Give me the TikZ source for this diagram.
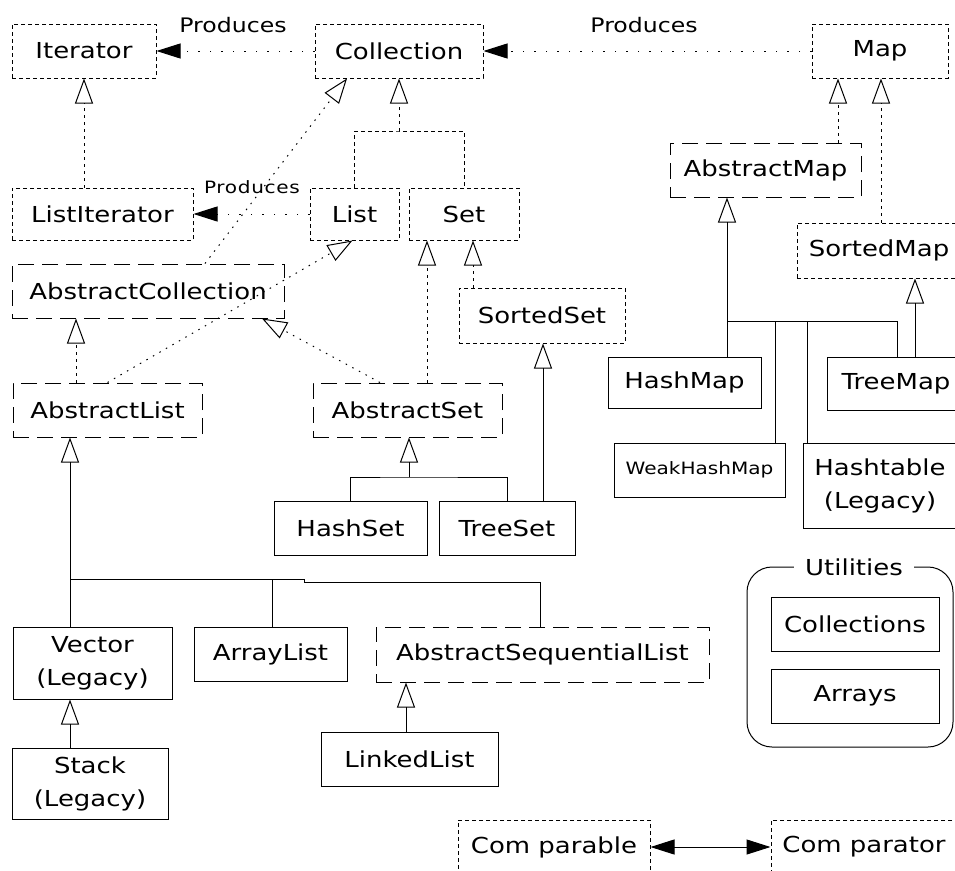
\documentclass[tikz,border=0pt]{standalone}
\usepackage{fontspec}
\setmainfont{DejaVu Sans}[FakeStretch=1.18]
\usetikzlibrary{arrows.meta}
\newcommand\ffBig{\fontsize{22}{33}\selectfont}
\newcommand\ffProd{\fontsize{20}{30}\selectfont}
\newcommand\ffSmall{\fontsize{17}{25}\selectfont}
\begin{document}
\begin{tikzpicture}[x=1pt,y=-1pt,line width=1pt,
  every node/.style={inner sep=0pt,align=center,font=\ffBig},
  ibox/.style={draw,dash pattern=on 4pt off 3pt},
  abox/.style={draw,dash pattern=on 16pt off 8pt},
  cbox/.style={draw},
  opentip/.tip={Triangle[open,length=25pt,width=18pt]},
  filltip/.tip={Triangle[length=24pt,width=15pt]},
  impl/.style={dash pattern=on 3pt off 4pt,-opentip},
  impld/.style={dash pattern=on 1.5pt off 6pt,-opentip},
  extends/.style={-opentip},
  produces/.style={dash pattern=on 1.5pt off 10pt,-filltip},
  groupline/.style={dash pattern=on 4pt off 3pt}]
\useasboundingbox (0,0) rectangle (955,870);
\clip (0,0) rectangle (955,870);
% interfaces and classes
\node[ibox,minimum width=144,minimum height=54] (it) at (84,51) {Iterator};
\node[ibox,minimum width=168,minimum height=54] (coll) at (399,51) {Collection};
\node[ibox,minimum width=136,minimum height=54] (map) at (880,51) {Map};
\node[ibox,minimum width=181,minimum height=52] (li) at (102.5,214) {ListIterator};
\node[ibox,minimum width=89,minimum height=52] (list) at (354.5,214) {List};
\node[ibox,minimum width=110,minimum height=52] (set) at (464,214) {Set};
\node[abox,minimum width=191,minimum height=54] (am) at (765.5,170) {AbstractMap};
\node[ibox,minimum width=164,minimum height=55] (sm) at (879,250.5) {SortedMap};
\node[abox,minimum width=272,minimum height=54] (ac) at (148,291) {AbstractCollection};
\node[ibox,minimum width=166,minimum height=55] (ss) at (542,315.5) {SortedSet};
\node[abox,minimum width=189,minimum height=54] (al) at (107.5,410) {AbstractList};
\node[abox,minimum width=189,minimum height=54] (as) at (407.5,410) {AbstractSet};
\node[cbox,minimum width=153,minimum height=54] (hs) at (350.5,528) {HashSet};
\node[cbox,minimum width=136,minimum height=54] (ts) at (507,528) {TreeSet};
\node[cbox,minimum width=153,minimum height=51] (hm) at (684.5,382.5) {HashMap};
\node[cbox,minimum width=138,minimum height=53] (tm) at (896,383.5) {TreeMap};
\node[cbox,minimum width=171,minimum height=54,font=\ffSmall] (whm) at (699.5,470) {WeakHashMap};
\node[cbox,minimum width=154,minimum height=85] (ht) at (880,485.5) {Hashtable\\(Legacy)};
\node[cbox,minimum width=159,minimum height=72] (vec) at (92.5,663) {Vector\\(Legacy)};
\node[cbox,minimum width=153,minimum height=54] (arl) at (270.5,654) {ArrayList};
\node[abox,minimum width=333,minimum height=55] (asl) at (542.5,654.5) {AbstractSequentialList};
\node[cbox,minimum width=156,minimum height=71] (stk) at (90,783.5) {Stack\\(Legacy)};
\node[cbox,minimum width=177,minimum height=54] (ll) at (409.5,759) {LinkedList};
% utilities
\node[draw,rounded corners=25pt,minimum width=206,minimum height=180] (util) at (850,657) {};
\node[fill=white,inner xsep=11pt,inner ysep=2pt] (utl) at (854,567) {Utilities};
\node[cbox,minimum width=168,minimum height=54] (colls) at (855,624) {Collections};
\node[cbox,minimum width=168,minimum height=54] (arrs) at (855,696) {Arrays};
% comparable / comparator
\node[ibox,minimum width=192,minimum height=54] (cmpb) at (554,847) {Com parable};
\node[ibox,minimum width=186,minimum height=54] (cmpt) at (864,847) {Com parator};
% labels
\node[font=\ffProd] (p1) at (233,25) {Produces};
\node[font=\ffProd] (p2) at (644,25) {Produces};
\node[font=\ffSmall\addfontfeature{LetterSpace=4}] (p3) at (252,187) {Produces};
% produces connectors
\draw[produces] (coll.west) -- (it.east);
\draw[produces] (map.west) -- (coll.east);
\draw[produces] (list.west) -- (li.east);
\draw[filltip-filltip] (cmpb.east) -- (cmpt.west);
% interface inheritance
\draw[impl] (li.north -| it.south) -- (it.south);
\coordinate (lsj) at (399,131);
\draw[groupline] (list.north) |- (lsj) -| (set.north);
\draw[impl] (lsj) -- (coll.south);
\draw[impl] ([xshift=72.5pt]am.north) -- ([xshift=-42pt]map.south);
\draw[impl] ([xshift=2pt]sm.north) -- ([xshift=1pt]map.south);
\draw[impl] ([xshift=-31.5pt]al.north) -- ([xshift=-72pt]ac.south);
\draw[impl] ([xshift=19.5pt]as.north) -- ([xshift=-37pt]set.south);
\draw[impl] ([xshift=-69pt]ss.north) -- ([xshift=9pt]set.south);
\draw[impld] ([xshift=57pt]ac.north) -- ([xshift=-52pt]coll.south);
\draw[impld] (al.north) -- ([xshift=-2pt]list.south);
\draw[impld] ([xshift=-27.5pt]as.north) -- ([xshift=114pt]ac.south);
% class inheritance: sets
\coordinate (asj) at (409,477);
\draw (hs.north) |- (asj) -| (ts.north);
\draw[extends] (asj) -- ([xshift=1.5pt]as.south);
\draw[extends] ([xshift=36pt]ts.north) -- ([xshift=1pt]ss.south);
% class inheritance: maps
\coordinate (amj) at (727,321);
\coordinate (amr) at (897,321);
\coordinate (w1) at (775,321);
\coordinate (h1) at (807,321);
\draw[extends] (amj) -- ([xshift=-38.5pt]am.south);
\draw ([xshift=42.5pt]hm.north) -- (amj) -- (amr) -- ([xshift=1pt]tm.north);
\draw ([xshift=75.5pt]whm.north) -- (w1);
\draw ([xshift=-73pt]ht.north) -- (h1);
\draw[extends] ([xshift=19pt]tm.north) -- ([xshift=36pt]sm.south);
% class inheritance: lists
\coordinate (alj1) at (70,579);
\coordinate (alj2) at (304,579);
\coordinate (alj3) at (304,582);
\coordinate (alj4) at (540,582);
\coordinate (arj) at (272,579);
\draw[extends] ([xshift=-22.5pt]vec.north) -- ([xshift=-37.5pt]al.south);
\draw (alj1) -- (alj2) -- (alj3) -- (alj4) -- ([xshift=-2.5pt]asl.north);
\draw ([xshift=1.5pt]arl.north) -- (arj);
\draw[extends] ([xshift=-20pt]stk.north) -- ([xshift=-22.5pt]vec.south);
\draw[extends] ([xshift=-3.5pt]ll.north) -- ([xshift=-136.5pt]asl.south);
\end{tikzpicture}
\end{document}
